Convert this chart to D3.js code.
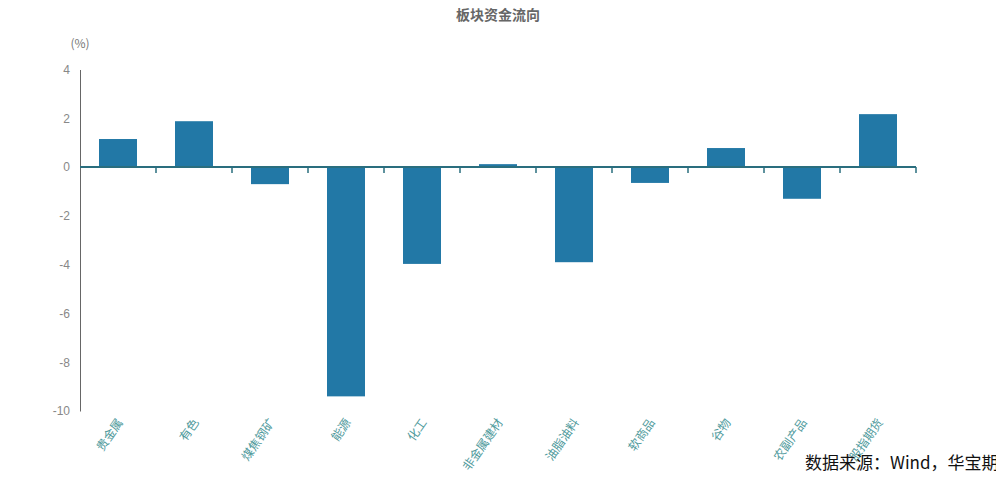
<!DOCTYPE html>
<html lang="zh">
<head>
  <meta charset="UTF-8">
  <title>板块资金流向</title>
  <style>
    body {
      margin: 0;
      background: #fff;
      font-family: "Noto Sans CJK SC", "Noto Sans", sans-serif;
      overflow: hidden;
    }
  </style>
</head>
<body>
  <svg id="chart" width="996" height="500"></svg>

  <script src="https://d3js.org/d3.v7.min.js"></script>
  <script>
    const sectors = ["贵金属", "有色", "煤焦钢矿", "能源", "化工", "非金属建材", "油脂油料", "软商品", "谷物", "农副产品", "股指期货"];
    const flows = [1.15, 1.88, -0.7, -9.4, -3.97, 0.12, -3.9, -0.65, 0.78, -1.3, 2.17];
    const yTicks = [4, 2, 0, -2, -4, -6, -8, -10];

    const svg = d3.select("#chart");
    const plotLeft = 80, plotRight = 916, plotTop = 69.5, plotBottom = 411;

    const x = d3.scaleBand()
      .domain(sectors)
      .range([plotLeft, plotRight])
      .paddingInner(0.5)
      .paddingOuter(0.25);

    const y = d3.scaleLinear()
      .domain([-10, 4])
      .range([plotBottom, plotTop]);

    // title
    svg.append("text")
      .attr("x", 498)
      .attr("y", 20)
      .attr("text-anchor", "middle")
      .attr("font-size", 14)
      .attr("font-weight", "bold")
      .attr("fill", "#666")
      .text("板块资金流向");

    svg.append("text")
      .attr("x", 80)
      .attr("y", 48)
      .attr("text-anchor", "middle")
      .attr("font-size", 12)
      .attr("fill", "#777")
      .text("(%)");

    // y axis (plain hyphen for negatives, like the original)
    const yAxis = svg.append("g")
      .attr("transform", `translate(${plotLeft},0)`)
      .call(d3.axisLeft(y).tickValues(yTicks).tickFormat(d => String(d)).tickSize(0).tickPadding(10));
    yAxis.select(".domain").attr("stroke", "#666");
    yAxis.selectAll("text")
      .attr("font-size", 12)
      .attr("fill", "#888")
      .attr("font-family", "Liberation Sans, Arial, sans-serif");

    // bars
    svg.append("g").selectAll("rect")
      .data(flows)
      .join("rect")
      .attr("x", (d, i) => x(sectors[i]))
      .attr("width", x.bandwidth())
      .attr("y", d => y(Math.max(0, d)))
      .attr("height", d => Math.abs(y(d) - y(0)))
      .attr("fill", "#2278a6");

    // zero axis with ticks between bands
    const step = x.step();
    const tickXs = sectors.map((s, i) => plotLeft + (i + 1) * step);
    svg.append("line")
      .attr("x1", plotLeft).attr("x2", plotRight)
      .attr("y1", y(0)).attr("y2", y(0))
      .attr("stroke", "#2a6e7e")
      .attr("stroke-width", 2);
    svg.append("g").selectAll("line")
      .data(tickXs)
      .join("line")
      .attr("x1", d => d).attr("x2", d => d)
      .attr("y1", y(0)).attr("y2", y(0) + 6)
      .attr("stroke", "#2a6e7e")
      .attr("stroke-width", 1.5);

    // category labels
    svg.append("g").selectAll("text")
      .data(sectors)
      .join("text")
      .attr("transform", d => `translate(${x(d) + x.bandwidth() / 2 + 2},${plotBottom + 9}) rotate(-55)`)
      .attr("text-anchor", "end")
      .attr("dy", "0.35em")
      .attr("font-size", 12)
      .attr("fill", "#4f9a9c")
      .text(d => d);

    // source (runs off the right edge, as in the original)
    svg.append("text")
      .attr("x", 805)
      .attr("y", 469)
      .attr("font-size", 17)
      .attr("fill", "#111")
      .text("数据来源：Wind，华宝期货");
  </script>
</body>
</html>
